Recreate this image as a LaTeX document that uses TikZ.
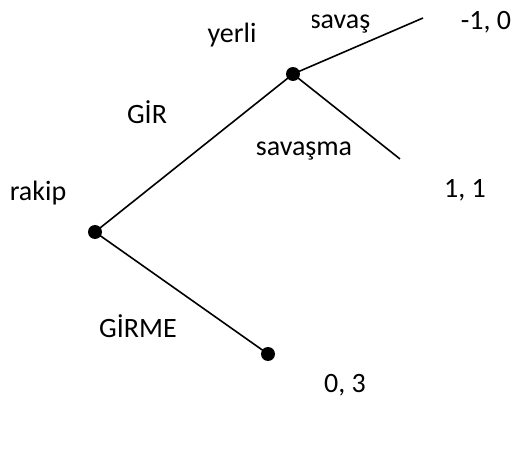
\documentclass[tikz,border=0pt]{standalone}
\usepackage{fontspec}
\setmainfont{Carlito}
\begin{document}
\begin{tikzpicture}[x=1pt,y=-1pt,
  dot/.style={circle,fill=black,inner sep=0pt,minimum size=14pt},
  lbl/.style={anchor=base,inner sep=0pt,font=\fontsize{28}{32}\selectfont},
  edge/.style={line width=1.6pt}]
\useasboundingbox (0,0) rectangle (515,455);
\node[dot] (r) at (95,232) {};
\node[dot] (y) at (293,74) {};
\node[dot] (g) at (268,354) {};
\coordinate (s1) at (423,18);
\coordinate (s2) at (400,159);
\draw[edge] (r.center) -- (y.center);
\draw[edge] (r.center) -- (g.center);
\draw[edge] (y.center) -- (s1);
\draw[edge] (y.center) -- (s2);
\node[lbl] (lyerli) at (232,42) {yerli};
\begin{scope}
\clip (312,0) rectangle (400,60);
\node[lbl] (lsavas) at (340,28) {savaş};
\end{scope}
\node[lbl] (p1) at (486,30) {-1, 0};
\node[lbl] (lgir) at (147,123) {GİR};
\node[lbl] (lsavasma) at (304,155) {savaşma};
\node[lbl] (lrakip) at (38,200) {rakip};
\node[lbl] (p2) at (465,197) {1, 1};
\node[lbl] (lgirme) at (138,337) {GİRME};
\node[lbl] (p3) at (345,392) {0, 3};
\end{tikzpicture}
\end{document}
